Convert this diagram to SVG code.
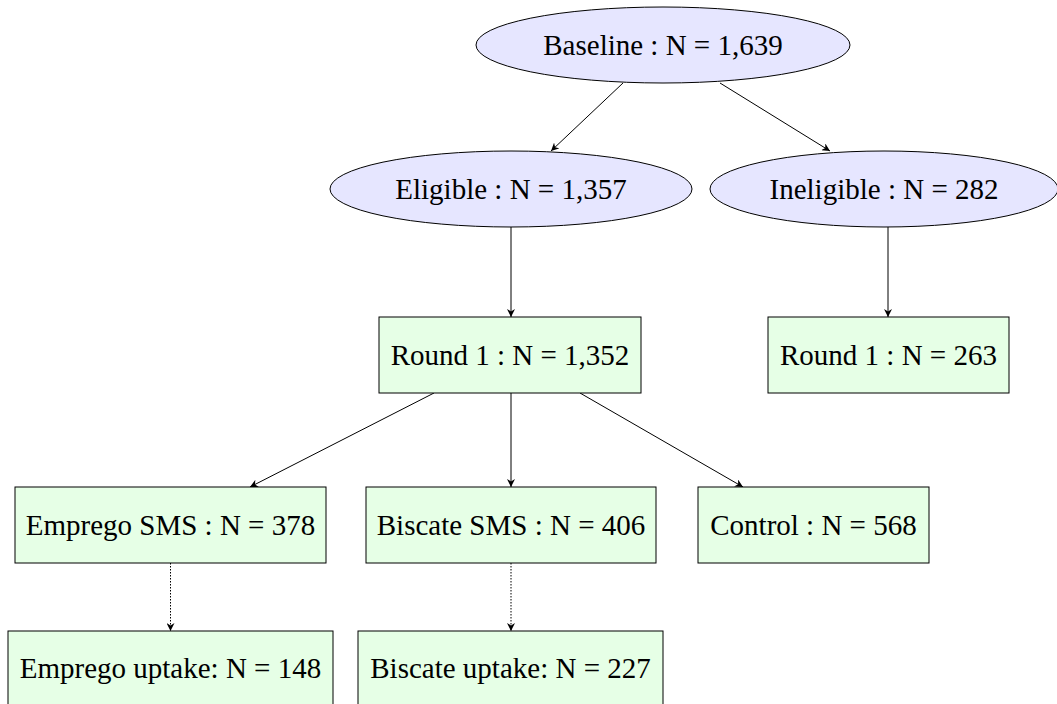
<svg xmlns="http://www.w3.org/2000/svg" width="1057" height="704" viewBox="0 0 1057 704">
<defs>
<marker id="ah" viewBox="0 0 10 10" refX="10" refY="5" markerWidth="8" markerHeight="8" markerUnits="userSpaceOnUse" orient="auto">
<path d="M0,0 L10,5 L0,10 L3,5 Z" fill="#000"/>
</marker>
<style>
.ell{fill:#e6e6ff;stroke:#000;stroke-width:1}
.box{fill:#e6ffe6;stroke:#000;stroke-width:1}
text{font-family:"Liberation Serif","Times New Roman",serif;font-size:29px;fill:#000;text-anchor:middle;dominant-baseline:central}
.c{fill:none;stroke:#000;stroke-width:1;marker-end:url(#ah)}
.d{stroke-dasharray:1.5,1.5}
</style>
</defs>
<g id="connectors">
<line class="c" x1="623" y1="83" x2="551" y2="151"/>
<line class="c" x1="720" y1="83" x2="830" y2="151"/>
<line class="c" x1="511" y1="227" x2="511" y2="317"/>
<line class="c" x1="888" y1="227" x2="888" y2="317"/>
<line class="c" x1="434" y1="393" x2="250" y2="487"/>
<line class="c" x1="511" y1="393" x2="511" y2="487"/>
<line class="c" x1="580" y1="393" x2="743" y2="487"/>
<line class="c d" x1="170.5" y1="563" x2="170.5" y2="631"/>
<line class="c d" x1="511" y1="563" x2="511" y2="631"/>
</g>
<g id="baseline"><ellipse class="ell" cx="663" cy="45" rx="187" ry="38"/><text x="663" y="45">Baseline : N = 1,639</text></g>
<g id="eligible"><ellipse class="ell" cx="511" cy="189" rx="181" ry="38"/><text x="511" y="189">Eligible : N = 1,357</text></g>
<g id="ineligible"><ellipse class="ell" cx="884" cy="189" rx="174" ry="38"/><text x="884" y="189">Ineligible : N = 282</text></g>
<g id="round1-eligible"><rect class="box" x="379" y="317" width="262" height="76"/><text x="510" y="355">Round 1 : N = 1,352</text></g>
<g id="round1-ineligible"><rect class="box" x="768" y="317" width="241" height="76"/><text x="888.5" y="355">Round 1 : N = 263</text></g>
<g id="emprego-sms"><rect class="box" x="15" y="487" width="311" height="76"/><text x="170.5" y="525">Emprego SMS : N = 378</text></g>
<g id="biscate-sms"><rect class="box" x="366" y="487" width="290" height="76"/><text x="511" y="525">Biscate SMS : N = 406</text></g>
<g id="control"><rect class="box" x="698" y="487" width="231" height="76"/><text x="813.5" y="525">Control : N = 568</text></g>
<g id="emprego-uptake"><rect class="box" x="8" y="631" width="325" height="76"/><text x="170.5" y="668">Emprego uptake: N = 148</text></g>
<g id="biscate-uptake"><rect class="box" x="358" y="631" width="305" height="76"/><text x="510.5" y="668">Biscate uptake: N = 227</text></g>
</svg>
